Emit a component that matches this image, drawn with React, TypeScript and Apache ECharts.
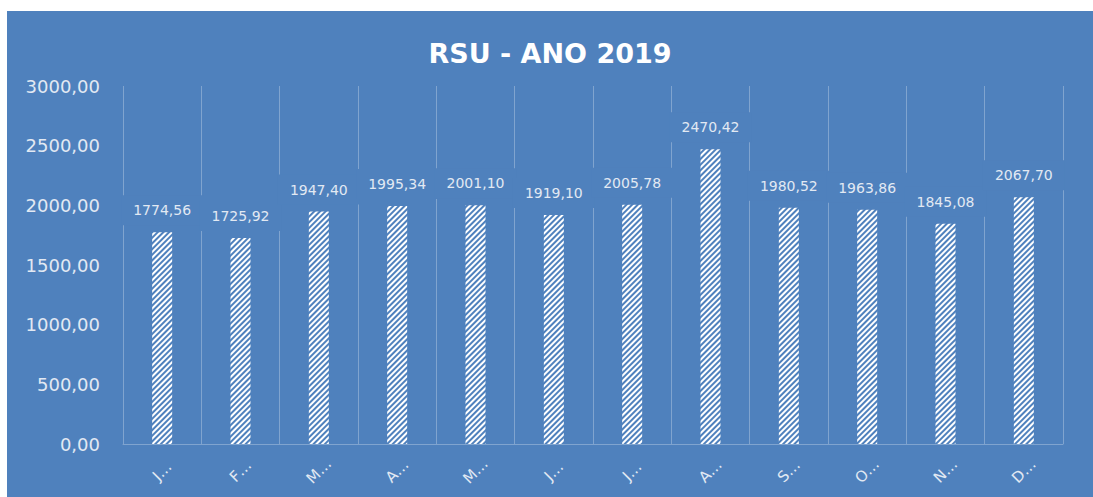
import React, { useEffect, useRef } from "react";
import * as echarts from "echarts";

const title = "RSU - ANO 2019";
const categories = ["J…", "F…", "M…", "A…", "M…", "J…", "J…", "A…", "S…", "O…", "N…", "D…"];
const values = [1774.56, 1725.92, 1947.4, 1995.34, 2001.1, 1919.1, 2005.78, 2470.42, 1980.52, 1963.86, 1845.08, 2067.7];
const yMin = 0;
const yMax = 3000;
const yInterval = 500;

const BG = "#4F81BD";
const TEXT = "#e2e9f3";
const GRID = "rgba(255,255,255,0.28)";

const fmt = (v: number) => v.toFixed(2).replace(".", ",");

export default function App() {
  const ref = useRef<HTMLDivElement>(null);
  useEffect(() => {
    document.body.style.margin = "0";
    const chart = echarts.init(ref.current!, null, { renderer: "svg" });
    chart.setOption({
      animation: false,
      backgroundColor: BG,
      title: {
        text: title,
        left: "center",
        top: 24,
        textStyle: { color: "#ffffff", fontFamily: "DejaVu Sans", fontWeight: "bold", fontSize: 27 },
      },
      grid: { left: 116, right: 30, top: 75, bottom: 53, containLabel: false },
      xAxis: {
        type: "category",
        data: categories,
        boundaryGap: true,
        axisLine: { show: true, lineStyle: { color: GRID, width: 1 } },
        axisTick: { show: false },
        splitLine: { show: true, lineStyle: { color: GRID, width: 1 } },
        axisLabel: {
          rotate: 45,
          align: "center",
          verticalAlign: "middle",
          margin: 27,
          color: TEXT,
          fontFamily: "DejaVu Sans",
          fontSize: 15,
          interval: 0,
        },
      },
      yAxis: {
        type: "value",
        min: yMin,
        max: yMax,
        interval: yInterval,
        axisLine: { show: false },
        axisTick: { show: false },
        splitLine: { show: false },
        axisLabel: {
          formatter: (v: number) => fmt(v),
          color: TEXT,
          fontFamily: "DejaVu Sans",
          fontSize: 18,
          margin: 23,
        },
      },
      series: [
        {
          type: "bar",
          data: values,
          barWidth: 20,
          itemStyle: {
            color: BG,
            decal: {
              symbol: "rect",
              color: "#ffffff",
              dashArrayX: [1, 0],
              dashArrayY: [2, 1.5],
              rotation: -Math.PI / 4,
            },
          },
          label: {
            show: true,
            position: "top",
            distance: 7,
            formatter: (p: any) => fmt(p.value),
            color: TEXT,
            fontFamily: "DejaVu Sans",
            fontSize: 14,
            backgroundColor: BG,
            padding: [8, 12],
          },
        },
      ],
    });
    return () => chart.dispose();
  }, []);
  return (
    <div
      ref={ref}
      style={{ position: "absolute", left: 7, top: 11, width: 1086, height: 486 }}
    />
  );
}
